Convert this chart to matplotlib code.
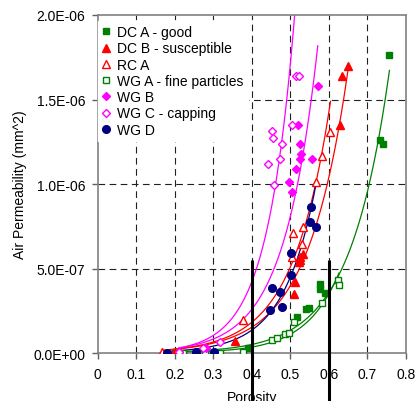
import numpy as np
import matplotlib
matplotlib.use("Agg")
import matplotlib.pyplot as plt

plt.rcParams['font.family'] = ['Liberation Sans', 'DejaVu Sans']

# ---- data (y in units of 1e-6 mm^2) ----
dca_x = [0.20, 0.39, 0.517, 0.541, 0.548, 0.576, 0.578, 0.589, 0.732, 0.739, 0.757]
dca_y = [0.002, 0.028, 0.211, 0.26, 0.264, 0.379, 0.408, 0.353, 1.26, 1.237, 1.763]

dcb_x = [0.198, 0.356, 0.509, 0.513, 0.522, 0.524, 0.524, 0.532, 0.628, 0.635, 0.649]
dcb_y = [0.0, 0.073, 0.349, 0.418, 0.538, 0.568, 0.55, 0.586, 1.349, 1.637, 1.70]

rca_x = [0.166, 0.376, 0.503, 0.507, 0.531, 0.533, 0.566, 0.583, 0.604]
rca_y = [0.004, 0.197, 0.566, 0.71, 0.645, 0.744, 1.01, 1.167, 1.306]

wga_x = [0.22, 0.278, 0.317, 0.377, 0.451, 0.464, 0.485, 0.496, 0.509, 0.583, 0.623, 0.626]
wga_y = [0.0, 0.0, 0.002, 0.008, 0.079, 0.087, 0.112, 0.118, 0.182, 0.298, 0.432, 0.402]

wgb_x = [0.21, 0.28, 0.496, 0.505, 0.514, 0.52, 0.524, 0.524, 0.528, 0.557, 0.571]
wgb_y = [0.004, 0.03, 1.014, 0.951, 1.089, 1.351, 1.237, 1.148, 1.178, 1.148, 1.582]

wgc_x = [0.211, 0.272, 0.317, 0.442, 0.451, 0.455, 0.457, 0.472, 0.479, 0.503, 0.515, 0.522]
wgc_y = [0.004, 0.028, 0.065, 1.118, 1.315, 1.27, 0.996, 1.148, 1.237, 1.349, 1.641, 1.641]

wgd_x = [0.179, 0.254, 0.301, 0.447, 0.452, 0.472, 0.477, 0.501, 0.501, 0.55, 0.554, 0.567]
wgd_y = [0.0, 0.003, 0.003, 0.256, 0.383, 0.363, 0.27, 0.463, 0.592, 0.777, 0.862, 0.747]

# exponential trendline y = a*exp(b*x), given by a reference point (x_ref, y_ref) and rate b
dca_trend = (0.760, 1.722, 9.8)
dcb_trend = (0.651, 1.70, 9.6)
rca_trend = (0.606, 1.52, 10.3)
wga_trend = (0.626, 0.473, 11.5)
wgb_trend = (0.571, 1.818, 11.4)
wgc_trend = (0.511, 2.0, 14.0)
wgd_trend = (0.557, 0.892, 12.0)

labels = ["DC A - good", "DC B - susceptible", "RC A", "WG A - fine particles",
          "WG B", "WG C - capping", "WG D"]
cutoff_porosity = [0.4, 0.6]
cutoff_top = 0.55

x_ticks = [0, 0.1, 0.2, 0.3, 0.4, 0.5, 0.6, 0.7, 0.8]
x_tick_labels = ["0", "0.1", "0.2", "0.3", "0.4", "0.5", "0.6", "0.7", "0.8"]
y_ticks = [0.0, 0.5, 1.0, 1.5, 2.0]
y_tick_labels = ["0.0E+00", "5.0E-07", "1.0E-06", "1.5E-06", "2.0E-06"]

GREEN = '#008000'
RED = '#FF0000'
MAG = '#FF00FF'
NAVY = '#000080'

series = [
    (dca_x, dca_y, dca_trend, dict(marker='s', color=GREEN, mfc=GREEN, ms=5)),
    (dcb_x, dcb_y, dcb_trend, dict(marker='^', color=RED, mfc=RED, ms=6)),
    (rca_x, rca_y, rca_trend, dict(marker='^', color=RED, mfc='white', ms=6)),
    (wga_x, wga_y, wga_trend, dict(marker='s', color=GREEN, mfc='white', ms=5)),
    (wgb_x, wgb_y, wgb_trend, dict(marker='D', color=MAG, mfc=MAG, ms=4)),
    (wgc_x, wgc_y, wgc_trend, dict(marker='D', color=MAG, mfc='white', ms=4)),
    (wgd_x, wgd_y, wgd_trend, dict(marker='o', color=NAVY, mfc=NAVY, ms=5.5)),
]

fig = plt.figure(figsize=(4.16, 4.02), dpi=100)
ax = fig.add_axes([0.235, 0.1194, 0.741, 0.8408])

# gridlines
for xv in x_ticks[1:-1]:
    ax.axvline(xv, color='#202020', lw=0.8, ls=(0, (6, 4)), zorder=0)
for yv in y_ticks[1:-1]:
    ax.axhline(yv, color='#202020', lw=0.8, ls=(0, (6, 4)), zorder=0)

handles = []
for (xs, ys, (xr, yr, b), st), lab in zip(series, labels):
    xs = np.array(xs)
    ys = np.array(ys)
    xx = np.linspace(xs.min(), xs.max(), 300)
    yy = yr * np.exp(b * (xx - xr))
    ax.plot(xx, yy, color=st['color'], lw=0.9, zorder=2)
    h, = ax.plot(xs, ys, ls='none', marker=st['marker'], ms=st['ms'],
                 mfc=st['mfc'], mec=st['color'], mew=1.0, zorder=3, label=lab)
    handles.append(h)

# cutoff lines
ax.vlines(cutoff_porosity, -0.5, cutoff_top, colors='black', lw=2.2,
          clip_on=False, zorder=4)

ax.set_xlim(0, 0.8)
ax.set_ylim(0, 2.0)
ax.set_xticks(x_ticks)
ax.set_xticklabels(x_tick_labels)
ax.set_yticks(y_ticks)
ax.set_yticklabels(y_tick_labels)
ax.tick_params(axis='both', labelsize=10, length=4, width=1, color='#606060',
               direction='out')
ax.tick_params(axis='y', pad=5)
ax.tick_params(axis='x', pad=6)
for sp in ax.spines.values():
    sp.set_color('#808080')
    sp.set_linewidth(1.2)

ax.set_ylabel("Air Permeability (mm^2)", fontsize=10)
ax.yaxis.set_label_coords(-0.231, 0.5)
ax.set_xlabel("Porosity", fontsize=10)
ax.xaxis.set_label_coords(0.5, -0.110)

leg = ax.legend(handles=handles, loc='upper left', bbox_to_anchor=(0.0, 0.982),
                fontsize=10, frameon=True, fancybox=False, framealpha=1,
                edgecolor='white', facecolor='white', labelspacing=0.16,
                handlelength=0.6, handletextpad=0.5, borderpad=0.3,
                borderaxespad=0.0)
leg.set_zorder(5)

fig.savefig("out.png", dpi=100)
